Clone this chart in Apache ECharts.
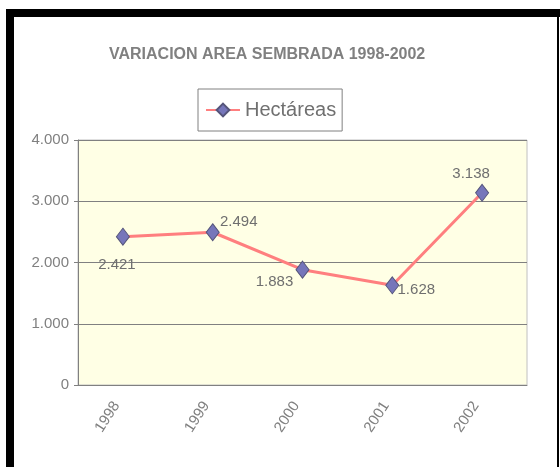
<!DOCTYPE html>
<html>
<head>
<meta charset="utf-8">
<script src="https://cdn.jsdelivr.net/npm/echarts@6/dist/echarts.min.js"></script>
<style>
  html, body { margin: 0; padding: 0; background: #fff; }
  #app { width: 560px; height: 467px; }
</style>
</head>
<body>
<div id="app"></div>
<script>
const years = ['1998', '1999', '2000', '2001', '2002'];
const hectareas = [2421, 2494, 1883, 1628, 3138];
const yTicks = [0, 1000, 2000, 3000, 4000];

// where each data label sits relative to its point (Excel auto placement)
const labelOffsets = [[-6, 28], [26, -10], [-28, 12], [24, 5], [-11, -19]];

const font = "'Liberation Sans', Arial, sans-serif";

// 2.421 style, dot as thousands separator
function fmt(v) {
    return v === 0 ? '0' : (v / 1000).toFixed(3);
}

const chart = echarts.init(document.getElementById('app'));

chart.setOption({
    animation: false,
    textStyle: { fontFamily: font },
    title: {
        text: 'VARIACION AREA SEMBRADA 1998-2002',
        left: 109,
        top: 47,
        padding: 0,
        textStyle: { fontFamily: font, fontSize: 16, fontWeight: 'bold', color: '#808080' }
    },
    legend: {
        left: 198,
        top: 89,
        padding: [11, 6, 11, 7],
        borderColor: '#808080',
        borderWidth: 1,
        backgroundColor: '#fff',
        itemWidth: 34,
        itemHeight: 16,
        textStyle: { fontFamily: font, fontSize: 20, color: '#707070' },
        data: ['Hectáreas']
    },
    grid: {
        left: 78, right: 33, top: 140, bottom: 82,
        show: true,
        backgroundColor: '#FFFFE5',
        borderColor: '#c0c0c0',
        borderWidth: 1
    },
    xAxis: {
        type: 'category',
        data: years,
        boundaryGap: true,
        axisLine: { lineStyle: { color: '#808080', width: 1 } },
        axisTick: { length: 4, lineStyle: { color: '#808080' } },
        axisLabel: {
            rotate: 57, margin: 22, verticalAlign: 'bottom',
            fontSize: 15, color: '#808080', fontFamily: font
        }
    },
    yAxis: {
        type: 'value',
        min: yTicks[0],
        max: yTicks[yTicks.length - 1],
        interval: 1000,
        axisLine: { show: true, lineStyle: { color: '#808080', width: 1 } },
        axisTick: { show: true, length: 4, lineStyle: { color: '#808080' } },
        axisLabel: { margin: 9, fontSize: 15, color: '#808080', fontFamily: font, formatter: fmt },
        splitLine: { lineStyle: { color: '#808080', width: 1 } }
    },
    graphic: [
        { type: 'rect', shape: { x: 6, y: 9, width: 554, height: 8 }, style: { fill: '#000' } },
        { type: 'rect', shape: { x: 6, y: 9, width: 8, height: 460 }, style: { fill: '#000' } },
        { type: 'rect', shape: { x: 557, y: 9, width: 2, height: 460 }, style: { fill: '#000' } }
    ],
    series: [{
        name: 'Hectáreas',
        type: 'line',
        data: hectareas.map((v, i) => ({
            value: v,
            label: { offset: labelOffsets[i] }
        })),
        symbol: 'diamond',
        symbolSize: [13, 17],
        itemStyle: { color: '#7676BA', borderColor: '#55557a', borderWidth: 1 },
        lineStyle: { color: '#FF7F7F', width: 3 },
        label: {
            show: true,
            position: 'inside',
            fontFamily: font,
            fontSize: 15,
            color: '#6f6f6f',
            formatter: p => fmt(p.value)
        }
    }]
});
</script>
</body>
</html>
